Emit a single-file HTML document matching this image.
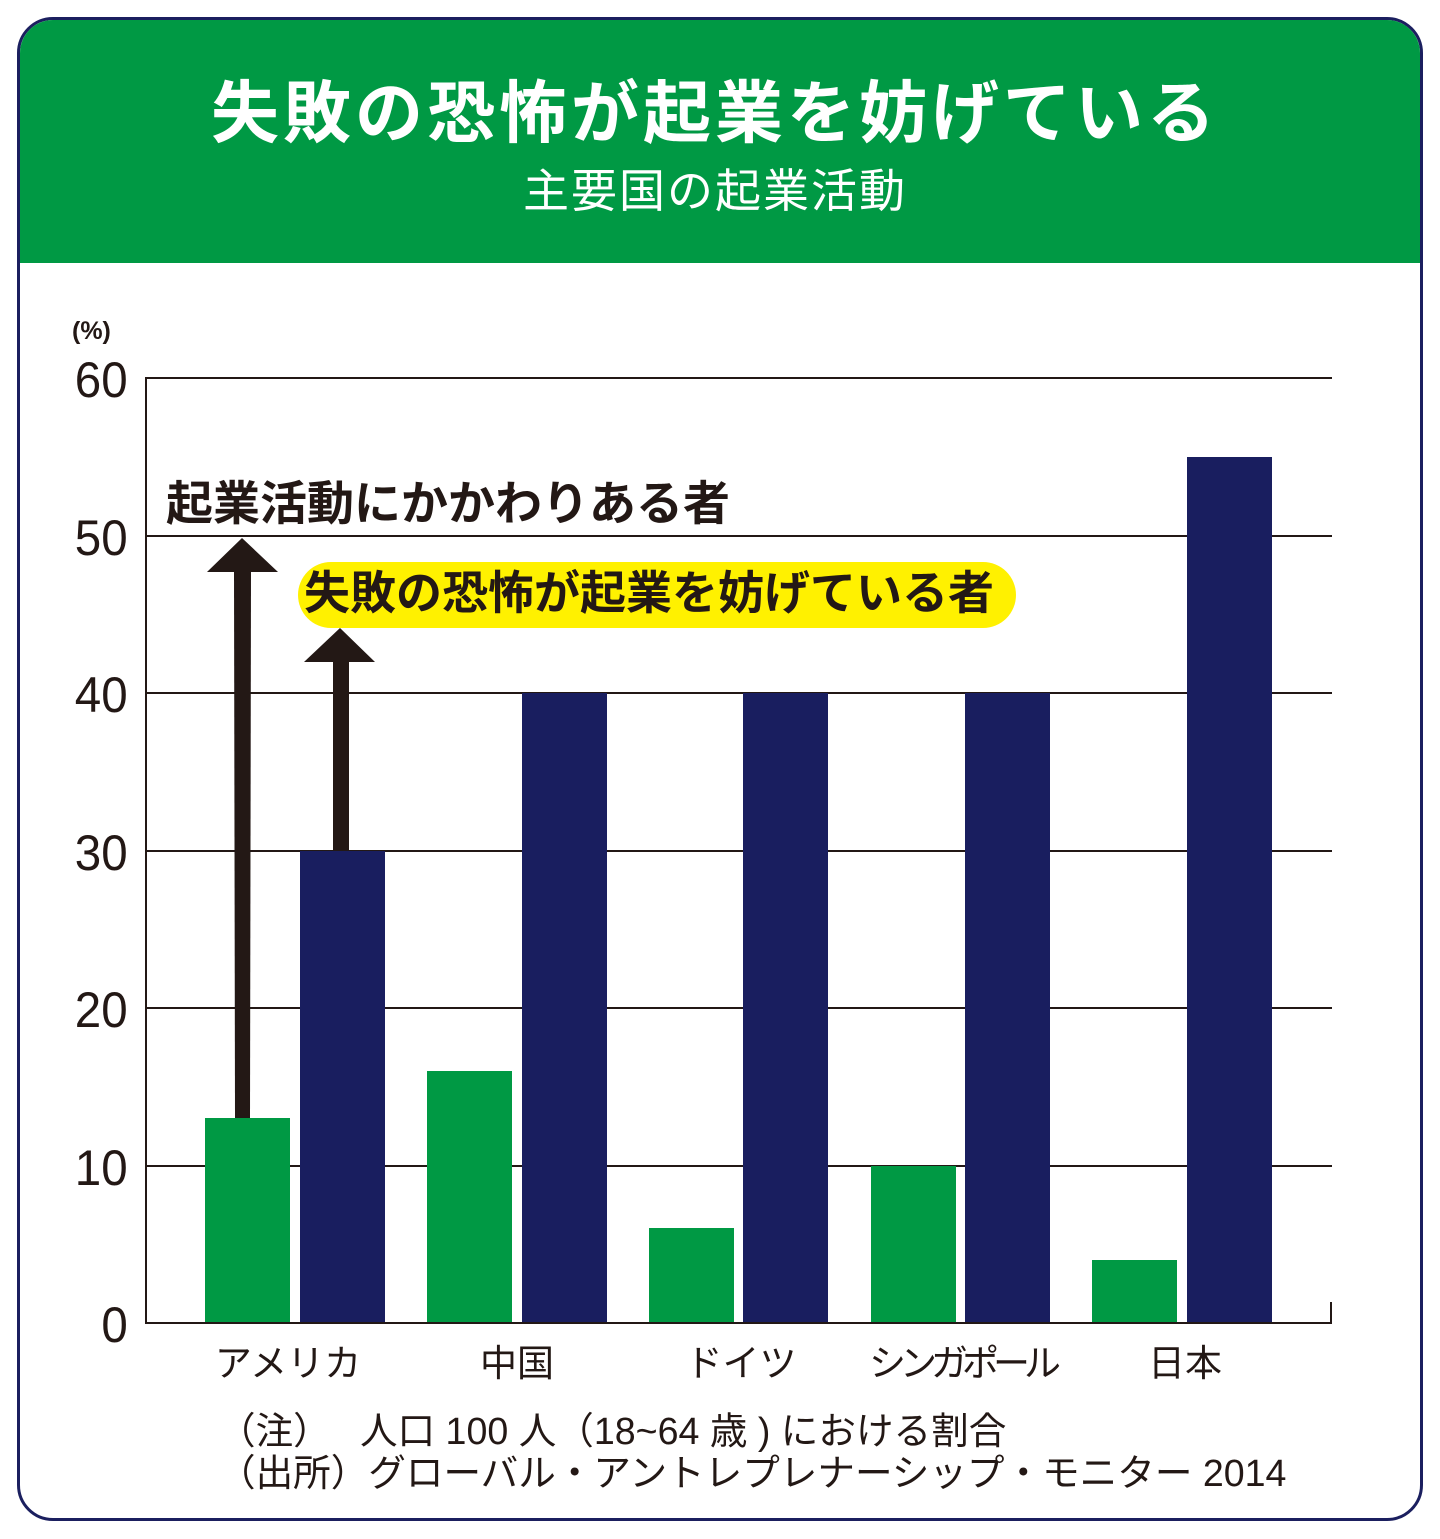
<!DOCTYPE html>
<html><head><meta charset="utf-8"><style>
body{margin:0;width:1440px;height:1539px;background:#fff;position:relative;overflow:hidden;font-family:"Liberation Sans","Noto Sans CJK JP",sans-serif}
.a{position:absolute}
.frame{left:17px;top:17px;width:1400px;height:1498px;border:3px solid #1b1f5f;border-radius:36px;overflow:hidden}
.hdr{left:0;top:0;width:1400px;height:243px;background:#009944}
.yl{position:absolute;right:1312px;font-size:50px;color:#231815;line-height:1;text-align:right;transform:scaleX(0.95);transform-origin:right}
.g{position:absolute;left:146px;width:1186px;height:2px;background:#231815}
.bg{position:absolute;background:#009944;width:85px}
.bn{position:absolute;background:#191e5f;width:85px}
.cat{position:absolute;top:1333px;font-size:37px;color:#231815;width:240px;text-align:center;white-space:nowrap}
</style></head><body>
<div class="a frame"><div class="a hdr"></div></div>
<div class="a" style="left:0;width:1430px;top:80px;text-align:center;color:#fff;font-size:68px;font-weight:bold;line-height:1;letter-spacing:4px;white-space:nowrap">失敗の恐怖が起業を妨げている</div>
<div class="a" style="left:0;width:1430px;top:168px;text-align:center;color:#fff;font-size:46px;line-height:1;letter-spacing:2px">主要国の起業活動</div>
<div class="a" style="left:72px;top:317px;font-size:25px;font-weight:bold;color:#231815">(%)</div>
<div class="yl" style="top:355px">60</div>
<div class="yl" style="top:513px">50</div>
<div class="yl" style="top:670px">40</div>
<div class="yl" style="top:828px">30</div>
<div class="yl" style="top:985px">20</div>
<div class="yl" style="top:1143px">10</div>
<div class="yl" style="top:1300px">0</div>
<div class="g" style="top:377px"></div>
<div class="g" style="top:535px"></div>
<div class="g" style="top:692px"></div>
<div class="g" style="top:850px"></div>
<div class="g" style="top:1007px"></div>
<div class="g" style="top:1165px"></div>
<div class="a" style="left:145px;top:377px;width:2px;height:947px;background:#231815"></div>
<div class="bg" style="left:205px;top:1118px;height:205px"></div>
<div class="bn" style="left:300px;top:851px;height:472px"></div>
<div class="bg" style="left:427px;top:1071px;height:252px"></div>
<div class="bn" style="left:522px;top:693px;height:630px"></div>
<div class="bg" style="left:649px;top:1228px;height:95px"></div>
<div class="bn" style="left:743px;top:693px;height:630px"></div>
<div class="bg" style="left:871px;top:1166px;height:157px"></div>
<div class="bn" style="left:965px;top:693px;height:630px"></div>
<div class="bg" style="left:1092px;top:1260px;height:63px"></div>
<div class="bn" style="left:1187px;top:457px;height:866px"></div>
<div class="g" style="top:1322px"></div>
<div class="a" style="left:1330px;top:1302px;width:2px;height:22px;background:#231815"></div>
<svg class="a" style="left:0;top:0" width="1440" height="1539">
<polygon points="235,1118 250,1118 251,572 234,572" fill="#231815"/>
<polygon points="207,572 278,572 242,538" fill="#231815"/>
<rect x="333" y="662" width="16" height="189" fill="#231815"/>
<polygon points="304,662 375,662 340,628" fill="#231815"/>
</svg>
<div class="a" style="left:166px;top:478px;font-size:47px;font-weight:bold;color:#231815;line-height:1.1;white-space:nowrap">起業活動にかかわりある者</div>
<div class="a" style="left:298px;top:562px;width:718px;height:66px;background:#fff100;border-radius:33px"></div>
<div class="a" style="left:304px;top:568px;font-size:46px;font-weight:bold;color:#231815;line-height:1.1;white-space:nowrap">失敗の恐怖が起業を妨げている者</div>
<div class="cat" style="left:168px">アメリカ</div>
<div class="cat" style="left:397px">中国</div>
<div class="cat" style="left:621px">ドイツ</div>
<div class="cat" style="left:842px;letter-spacing:-6px">シンガポール</div>
<div class="cat" style="left:1065px">日本</div>
<div class="a" style="left:218px;top:1410px;font-size:37.6px;color:#231815;line-height:1.12;white-space:pre">（注）　 人口 100 人（18~64 歳 ) における割合
（出所）グローバル・アントレプレナーシップ・モニター 2014</div>
</body></html>
